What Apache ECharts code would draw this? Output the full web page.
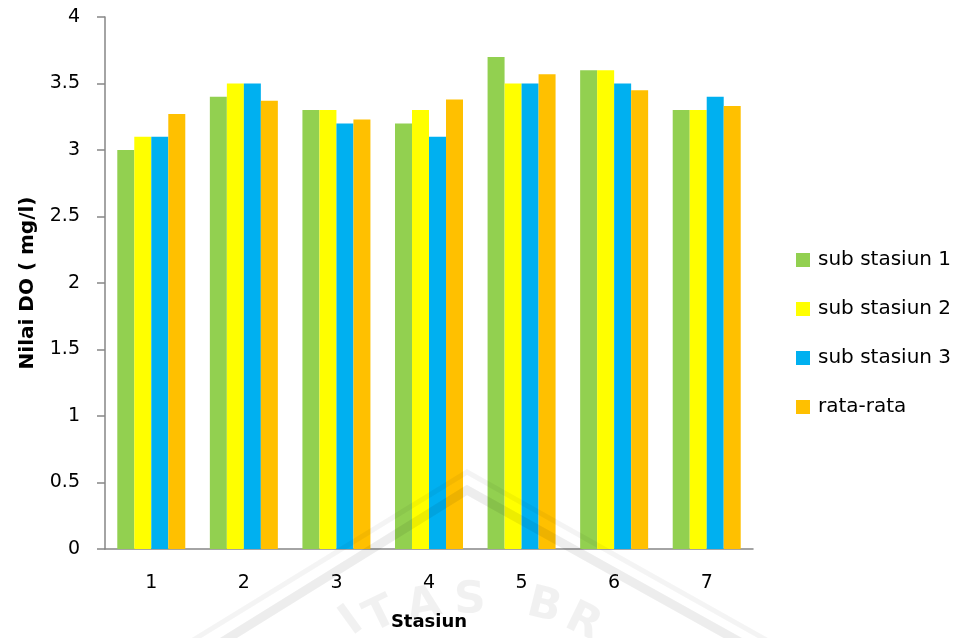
<!DOCTYPE html>
<html>
<head>
<meta charset="utf-8">
<script src="https://cdn.jsdelivr.net/npm/echarts@6/dist/echarts.min.js"></script>
<style>
  html, body { margin: 0; padding: 0; background: #ffffff; }
  #chart { width: 962px; height: 638px; }
</style>
</head>
<body>
<div id="chart"></div>
<script>
// Stations on the x axis
const stations = ['1', '2', '3', '4', '5', '6', '7'];

// Dissolved oxygen values (mg/l) per sub-station
const subStasiun1 = [3.0, 3.4, 3.3, 3.2, 3.7, 3.6, 3.3];
const subStasiun2 = [3.1, 3.5, 3.3, 3.3, 3.5, 3.6, 3.3];
const subStasiun3 = [3.1, 3.5, 3.2, 3.1, 3.5, 3.5, 3.4];
const rataRata    = [3.27, 3.37, 3.23, 3.38, 3.57, 3.45, 3.33];

const seriesNames = ['sub stasiun 1', 'sub stasiun 2', 'sub stasiun 3', 'rata-rata'];
const seriesColors = ['#92D050', '#FFFF00', '#00B0F0', '#FFC000'];
const seriesData = [subStasiun1, subStasiun2, subStasiun3, rataRata];

const font = 'DejaVu Sans';
const axisGray = '#868686';

// Faint campus watermark behind the plot
const wmLetters = [
  { t: 'I', x: 352, y: 622, r: 36 },
  { t: 'T', x: 381, y: 616, r: 26 },
  { t: 'A', x: 424, y: 606, r: 12 },
  { t: 'S', x: 470, y: 601, r: 2 },
  { t: 'B', x: 544, y: 607, r: -14 },
  { t: 'R', x: 583, y: 623, r: -26 }
];
const watermark = [
  {
    type: 'polyline', silent: true, z: 100,
    shape: { points: [[190, 642], [467, 472], [770, 642]] },
    style: { stroke: 'rgba(0,0,0,0.045)', lineWidth: 5, fill: null }
  },
  {
    type: 'polyline', silent: true, z: 100,
    shape: { points: [[222, 642], [467, 490], [740, 642]] },
    style: { stroke: 'rgba(0,0,0,0.07)', lineWidth: 9, fill: null }
  }
].concat(wmLetters.map(l => ({
  type: 'text', silent: true, z: 100,
  x: l.x, y: l.y, rotation: l.r * Math.PI / 180,
  style: {
    text: l.t, fill: 'rgba(0,0,0,0.055)',
    font: 'bold 44px "DejaVu Sans"',
    align: 'center', verticalAlign: 'middle'
  }
})));

const chart = echarts.init(document.getElementById('chart'), null, { renderer: 'canvas' });

chart.setOption({
  animation: false,
  backgroundColor: '#ffffff',
  grid: { left: 105, right: 209, top: 17, bottom: 89, containLabel: false },
  legend: {
    orient: 'vertical',
    left: 796,
    top: 250,
    padding: 0,
    itemWidth: 14,
    itemHeight: 14,
    itemGap: 29,
    icon: 'rect',
    data: seriesNames,
    textStyle: { fontFamily: font, fontSize: 20, color: '#000', lineHeight: 20, padding: [0, 0, 0, 3] }
  },
  xAxis: {
    type: 'category',
    data: stations,
    name: 'Stasiun',
    nameLocation: 'middle',
    nameGap: 64,
    nameTextStyle: { fontFamily: font, fontSize: 18, fontWeight: 'bold', color: '#000' },
    axisLine: { show: true, lineStyle: { color: axisGray, width: 1.5 } },
    axisTick: { show: false },
    axisLabel: { fontFamily: font, fontSize: 19, color: '#000', margin: 25 },
    splitLine: { show: false }
  },
  yAxis: {
    type: 'value',
    min: 0,
    max: 4,
    interval: 0.5,
    name: 'Nilai DO ( mg/l)',
    nameLocation: 'middle',
    nameRotate: 90,
    nameGap: 67,
    nameTextStyle: { fontFamily: font, fontSize: 20, fontWeight: 'bold', color: '#000' },
    axisLine: { show: true, lineStyle: { color: axisGray, width: 1.5 } },
    axisTick: { show: true, inside: false, length: 8, lineStyle: { color: axisGray, width: 1.5 } },
    axisLabel: { fontFamily: font, fontSize: 19, color: '#000', margin: 25 },
    splitLine: { show: false }
  },
  series: seriesNames.map((name, i) => ({
    name: name,
    type: 'bar',
    data: seriesData[i],
    barWidth: 17,
    barGap: '0%',
    itemStyle: { color: seriesColors[i] }
  })),
  graphic: watermark
});
</script>
</body>
</html>
